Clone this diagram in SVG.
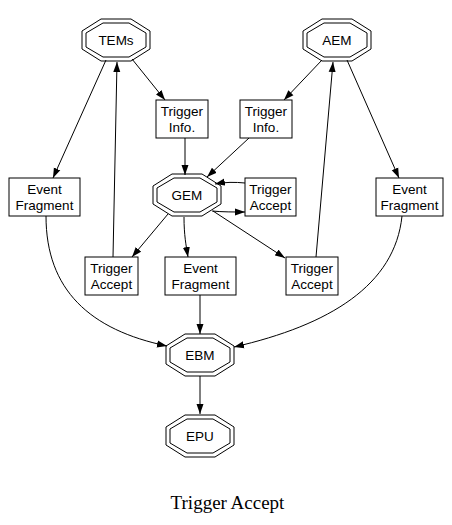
<svg xmlns="http://www.w3.org/2000/svg" width="452" height="525" viewBox="0 0 452 525">
<style>
.o{fill:none;stroke:#000;stroke-width:1}
.b{fill:#fff;stroke:#000;stroke-width:1}
.t{font-family:"Liberation Sans",Arial,sans-serif;font-size:13.5px;fill:#000;text-anchor:middle}
.e{fill:none;stroke:#000;stroke-width:1;marker-end:url(#ah)}
.cap{font-family:"Liberation Serif","Times New Roman",serif;font-size:19px;fill:#000;text-anchor:middle}
</style>
<defs>
<marker id="ah" markerWidth="10" markerHeight="8" refX="10" refY="4" orient="auto" markerUnits="userSpaceOnUse">
<path d="M0,0.5 L10,4 L0,7.5 z" fill="#000"/>
</marker>
<g id="oct">
<polygon class="o" points="-15,-21 15,-21 34,-9 34,9 15,21 -15,21 -34,9 -34,-9"/>
<polygon class="o" points="-13,-17 13,-17 30,-7 30,7 13,17 -13,17 -30,7 -30,-7"/>
</g>
</defs>
<rect width="452" height="525" fill="#fff"/>
<g id="connectors">
<path class="e" d="M132,59 L165,100"/>
<path class="e" d="M106,60 L53,178"/>
<path class="e" d="M113,257 L117,62"/>
<path class="e" d="M322,60 L284,100"/>
<path class="e" d="M347,60 L399,178"/>
<path class="e" d="M316,257 L333,62"/>
<path class="e" d="M185,138 L185,175"/>
<path class="e" d="M249,138 L207,177"/>
<path class="e" d="M245,183 C235,182 225,182 215,184"/>
<path class="e" d="M212,211 C222,212 234,212 245,212"/>
<path class="e" d="M168,214 L132,257"/>
<path class="e" d="M184,217 C184,235 186,245 188,257"/>
<path class="e" d="M213,211 L285,258"/>
<path class="e" d="M200,295 L200,334"/>
<path class="e" d="M46,216 C46,290 90,330 167,346"/>
<path class="e" d="M402,216 C395,285 330,325 234,347"/>
<path class="e" d="M200,376 L200,414"/>
</g>
<g id="TEMs"><use href="#oct" x="116" y="40"/><text class="t" x="116" y="45">TEMs</text></g>
<g id="AEM"><use href="#oct" x="337" y="40"/><text class="t" x="337" y="45">AEM</text></g>
<g id="GEM"><use href="#oct" x="187" y="195"/><text class="t" x="187" y="200">GEM</text></g>
<g id="EBM"><use href="#oct" x="200" y="355"/><text class="t" x="200" y="360">EBM</text></g>
<g id="EPU"><use href="#oct" x="200" y="436"/><text class="t" x="200" y="441">EPU</text></g>
<g id="TI1"><rect class="b" x="156" y="100" width="52" height="38"/><text class="t" x="182" y="116">Trigger</text><text class="t" x="182" y="132">Info.</text></g>
<g id="TI2"><rect class="b" x="240" y="100" width="52" height="38"/><text class="t" x="266" y="116">Trigger</text><text class="t" x="266" y="132">Info.</text></g>
<g id="EF1"><rect class="b" x="9" y="178" width="71" height="38"/><text class="t" x="44.5" y="194">Event</text><text class="t" x="44.5" y="210">Fragment</text></g>
<g id="TA1"><rect class="b" x="245" y="178" width="51" height="38"/><text class="t" x="270.5" y="194">Trigger</text><text class="t" x="270.5" y="210">Accept</text></g>
<g id="EF2"><rect class="b" x="376" y="178" width="67" height="38"/><text class="t" x="409.5" y="194">Event</text><text class="t" x="409.5" y="210">Fragment</text></g>
<g id="TA2"><rect class="b" x="85" y="257" width="53" height="38"/><text class="t" x="111.5" y="273">Trigger</text><text class="t" x="111.5" y="289">Accept</text></g>
<g id="EF3"><rect class="b" x="165" y="257" width="71" height="38"/><text class="t" x="200.5" y="273">Event</text><text class="t" x="200.5" y="289">Fragment</text></g>
<g id="TA3"><rect class="b" x="286" y="257" width="52" height="38"/><text class="t" x="312" y="273">Trigger</text><text class="t" x="312" y="289">Accept</text></g>
<text class="cap" x="227.5" y="509">Trigger Accept</text>
</svg>
